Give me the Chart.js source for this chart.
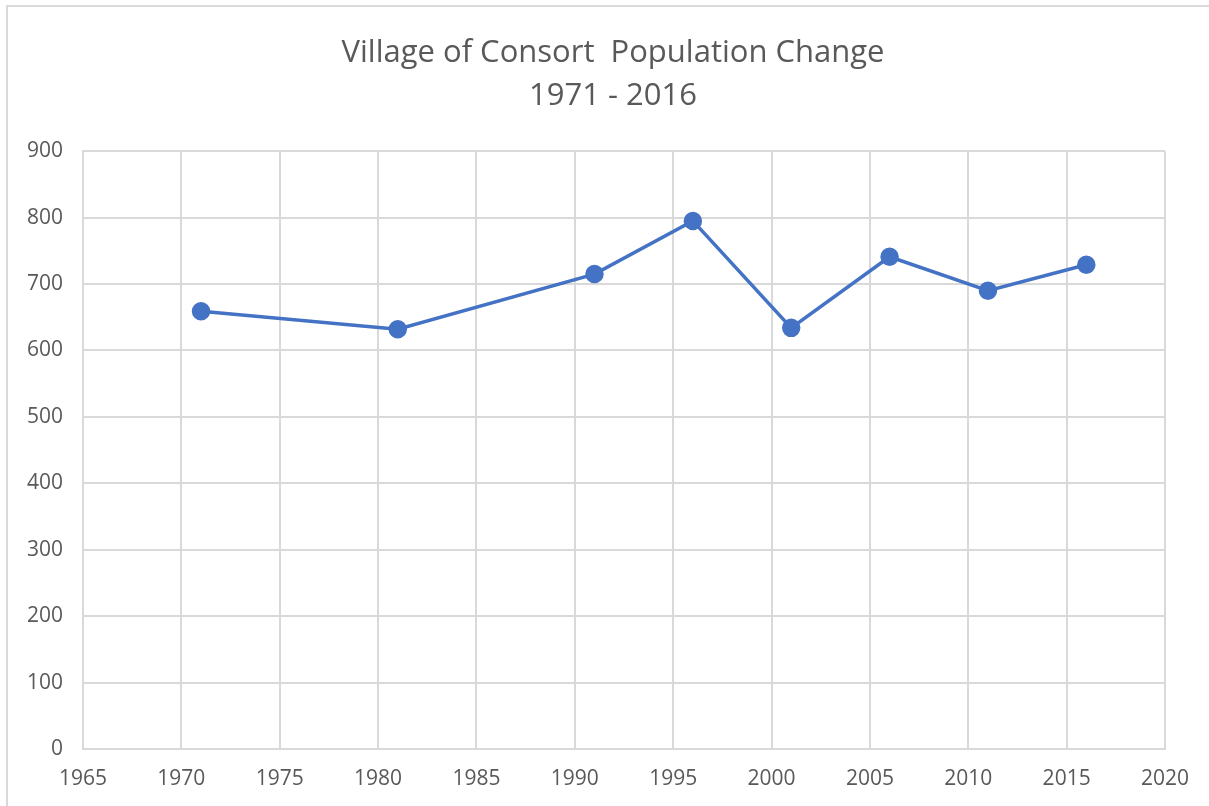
<!DOCTYPE html>
<html>
<head>
<meta charset="utf-8">
<script src="https://cdn.jsdelivr.net/npm/chart.js@4.4.1/dist/chart.umd.min.js"></script>
<style>
  html, body { margin: 0; padding: 0; background: #ffffff; }
  #frame { position: absolute; left: 0; top: 0; width: 1209px; height: 806px; }
  #edgeTop { position: absolute; left: 7px; top: 5px; width: 1202px; height: 2px; background: #d9d9d9; }
  #edgeLeft { position: absolute; left: 6px; top: 5px; width: 2px; height: 801px; background: #d9d9d9; }
  #wrap { position: absolute; left: 0; top: 0; width: 1209px; height: 806px; }
</style>
</head>
<body>
<div id="frame">
  <div id="wrap"><canvas id="c" width="1209" height="806"></canvas></div>
  <div id="edgeTop"></div>
  <div id="edgeLeft"></div>
</div>
<script>
const titleLines = ['Village of Consort  Population Change', '1971 - 2016'];
const years = [1971, 1981, 1991, 1996, 2001, 2006, 2011, 2016];
const population = [659, 632, 715, 795, 634, 741, 690, 729];
const xMin = 1965, xMax = 2020, xStep = 5;
const yMin = 0, yMax = 900, yStep = 100;

const points = years.map((yr, i) => ({ x: yr, y: population[i] }));
const gray = '#595959';
const grid = '#d9d9d9';
const blue = '#4472C4';
const tickFont = { family: "'Open Sans', 'Liberation Sans', sans-serif", size: 21 };

new Chart(document.getElementById('c'), {
  type: 'line',
  data: {
    datasets: [{
      data: points,
      borderColor: blue,
      backgroundColor: blue,
      borderWidth: 3.5,
      pointRadius: 7.5,
      pointHoverRadius: 7.5,
      pointBackgroundColor: blue,
      pointBorderColor: blue,
      tension: 0,
      fill: false
    }]
  },
  options: {
    responsive: false,
    animation: false,
    devicePixelRatio: 1,
    layout: { padding: { left: 17, right: 0, top: 0, bottom: 0 } },
    plugins: {
      legend: { display: false },
      tooltip: { enabled: false },
      title: {
        display: true,
        text: titleLines,
        color: gray,
        font: { family: "'Open Sans', 'Liberation Sans', sans-serif", size: 31, weight: 'normal', lineHeight: 1.39 },
        padding: { top: 32, bottom: 33 }
      }
    },
    scales: {
      x: {
        type: 'linear',
        min: xMin, max: xMax,
        ticks: { stepSize: xStep, color: gray, font: tickFont, padding: 17, maxRotation: 0,
                 callback: v => String(v) },
        grid: { color: grid, lineWidth: 2, drawTicks: false },
        border: { color: grid, width: 2 },
        afterFit: s => { s.height = 57; }
      },
      y: {
        min: yMin, max: yMax,
        ticks: { stepSize: yStep, color: gray, font: tickFont, padding: 20 },
        grid: { color: grid, lineWidth: 2, drawTicks: false },
        border: { color: grid, width: 2 },
        afterFit: s => { s.width = 66; }
      },
      yRight: {
        position: 'right',
        min: yMin, max: yMax,
        ticks: { display: false },
        grid: { display: false, drawTicks: false },
        border: { display: false },
        afterFit: s => { s.width = 44; }
      }
    }
  }
});
</script>
</body>
</html>
